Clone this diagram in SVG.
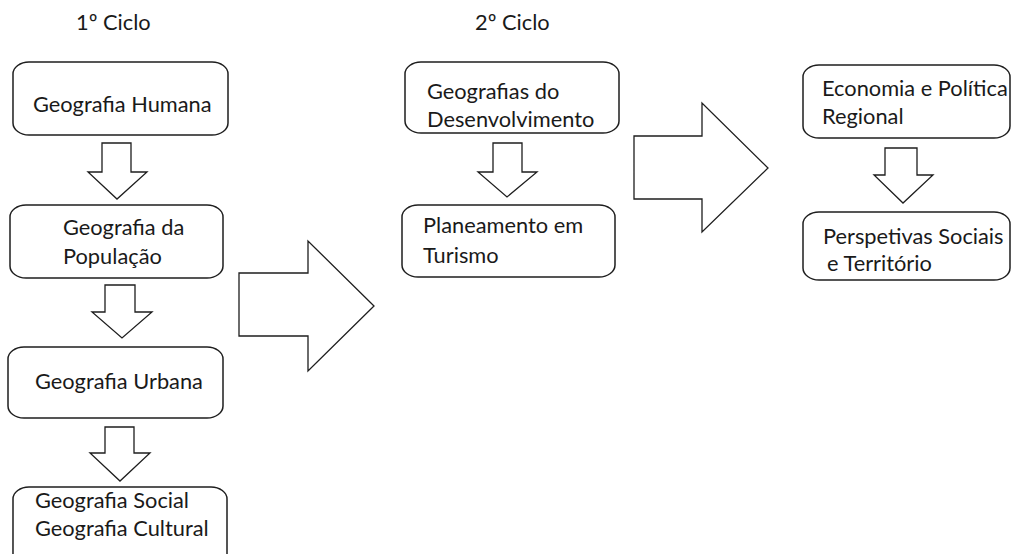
<svg xmlns="http://www.w3.org/2000/svg" width="1012" height="554" viewBox="0 0 1012 554">
<style>
  .box { fill: #ffffff; stroke: #1e1e1e; stroke-width: 1.5; }
  .arr { fill: #ffffff; stroke: #1e1e1e; stroke-width: 1.3; stroke-linejoin: miter; }
  .t { font-family: Lato, "Open Sans", "Liberation Sans", sans-serif; font-size: 21.8px; fill: #1a1a1a; }
</style>
<rect width="1012" height="554" fill="#ffffff"/>
<g id="titles">
  <text class="t" x="76" y="30">1º Ciclo</text>
  <text class="t" x="475" y="30">2º Ciclo</text>
</g>
<g id="connectors">
  <polygon class="arr" points="102,143 131,143 131,172 147,172 117,199 88,172 102,172"/>
  <polygon class="arr" points="105,285 135,285 135,312 152,312 122,338 92,312 105,312"/>
  <polygon class="arr" points="105,427 134,427 134,453 150,453 120,481 90,453 105,453"/>
  <polygon class="arr" points="493,143 522,143 522,172 537,172 507,197 478,172 493,172"/>
  <polygon class="arr" points="885,148 917,148 917,175 933,175 903,203 874,175 885,175"/>
  <polygon class="arr" points="239,273 308,273 308,241 374,306 308,371 308,336 239,336"/>
  <polygon class="arr" points="634,136 702,136 702,103 768,168 702,232 702,199 634,199"/>
</g>
<g id="node-humana">
  <rect class="box" x="13" y="62" width="215" height="73" rx="16" ry="12"/>
  <text class="t" x="33" y="112">Geografia Humana</text>
</g>
<g id="node-populacao">
  <rect class="box" x="10" y="205" width="213" height="73" rx="16" ry="12"/>
  <text class="t" x="63" y="235">Geografia da</text>
  <text class="t" x="63" y="264">População</text>
</g>
<g id="node-urbana">
  <rect class="box" x="8" y="347" width="215" height="71" rx="16" ry="12"/>
  <text class="t" x="35" y="389">Geografia Urbana</text>
</g>
<g id="node-social">
  <rect class="box" x="13" y="487" width="214" height="80" rx="16" ry="12"/>
  <text class="t" x="35" y="508">Geografia Social</text>
  <text class="t" x="35" y="536">Geografia Cultural</text>
</g>
<g id="node-desenvolvimento">
  <rect class="box" x="405" y="62" width="214" height="71" rx="16" ry="12"/>
  <text class="t" x="427" y="99">Geografias do</text>
  <text class="t" x="427" y="127">Desenvolvimento</text>
</g>
<g id="node-turismo">
  <rect class="box" x="402" y="205" width="213" height="72" rx="16" ry="12"/>
  <text class="t" x="423" y="233">Planeamento em</text>
  <text class="t" x="423" y="263">Turismo</text>
</g>
<g id="node-economia">
  <rect class="box" x="803" y="65" width="207" height="73" rx="16" ry="12"/>
  <text class="t" x="822" y="96">Economia e Política</text>
  <text class="t" x="822" y="124">Regional</text>
</g>
<g id="node-perspetivas">
  <rect class="box" x="803" y="212" width="207" height="68" rx="16" ry="12"/>
  <text class="t" x="823" y="244">Perspetivas Sociais</text>
  <text class="t" x="827" y="271">e Território</text>
</g>
</svg>
